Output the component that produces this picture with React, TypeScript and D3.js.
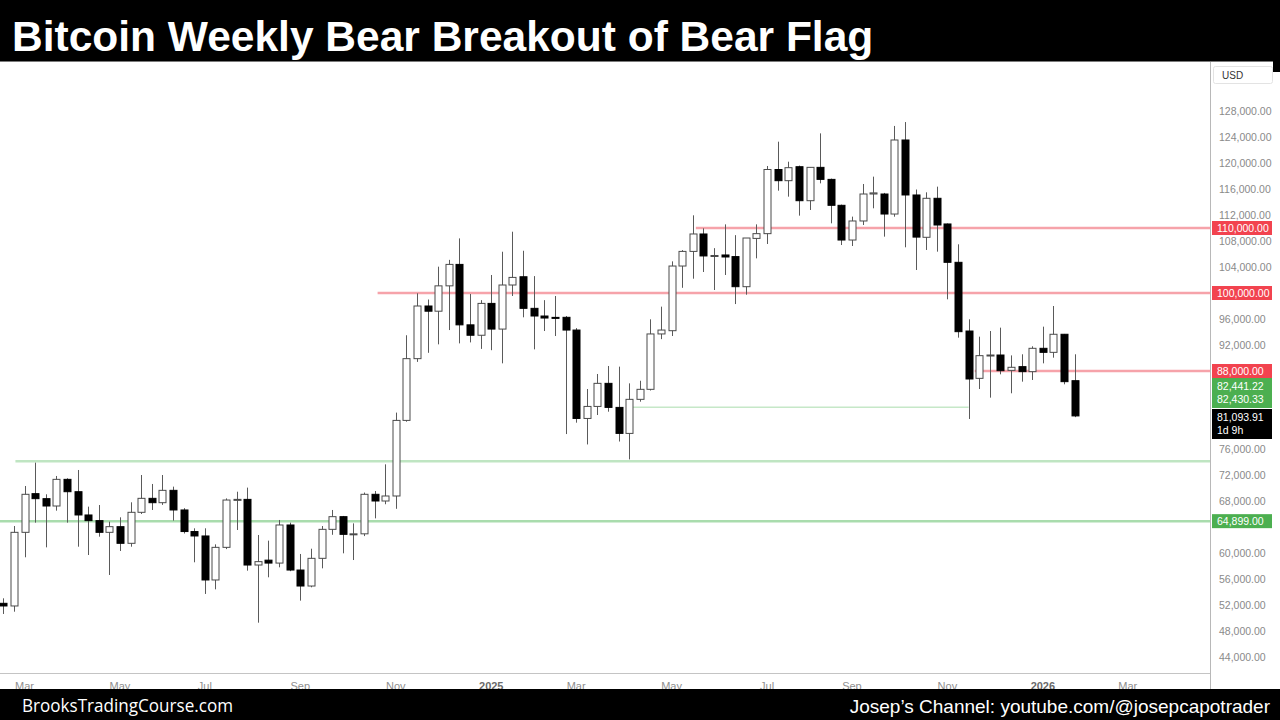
import React from "react";
import * as d3 from "d3";

// ---- DATA ----
const firstWeek = "2024-02-19";
const opens = [52260,51850,63180,69130,68360,67230,71330,69430,65850,64980,63180,64050,61490,66260,68410,67740,69640,66620,63300,62620,55850,60870,68150,68250,58150,58900,58450,64310,57380,54920,59180,63640,65590,62870,62950,69030,68000,68770,80400,89900,98000,97200,101100,104400,95100,93500,98400,94450,101230,102500,97640,96460,96250,96260,94300,80700,82550,86100,82400,78400,83640,85180,93700,94200,104150,106400,109080,105700,105850,105600,100970,108400,109130,119000,117280,119430,114200,119330,117480,113490,108150,111080,115230,115230,112150,123540,115080,108570,114570,110620,104720,94150,86870,90360,90460,88100,88670,87900,91490,90870,93650,86510];
const highs = [53030,64150,70310,73900,69030,71850,71500,72770,67130,67380,64820,65490,67800,72000,70620,72000,70210,66900,63800,63800,61330,68400,69430,70060,62770,61900,65080,64670,59850,60660,64150,66620,65700,64560,69300,69540,73640,81600,93500,99950,99000,104050,105100,108400,99850,98900,102770,106350,109430,106500,102600,98900,99540,96460,94600,85230,87540,88770,88670,86100,86500,95950,97900,104870,106600,111950,109950,106900,110560,108900,108460,110560,119540,123280,120200,119600,119330,124560,117600,113600,111750,116770,117900,115400,125700,126300,115920,115490,116360,110700,107490,95950,93280,94150,94670,90400,90570,91800,94820,98000,93700,90570];
const lows = [50620,50970,59340,64670,60870,66510,64670,60970,59690,62510,56620,60310,60970,66000,66620,67400,64980,63000,58570,53700,54410,60600,63540,57280,49280,56260,57800,57200,52670,54720,57640,62800,59950,58920,62600,65330,67500,66800,80200,89400,90800,92100,94300,92250,92400,91400,91200,89180,99540,96260,91330,94150,93380,78300,80050,76700,81230,81740,77150,74400,83280,85000,92900,93380,100800,102200,103230,100460,102770,98300,99740,105330,107540,115740,114820,111900,112770,116870,110720,107380,107230,110460,113030,108670,111740,107030,103540,106620,106360,99030,93130,80620,85230,83900,87490,84570,86360,86620,89180,90050,85950,80900];
const closes = [51850,63180,69030,68360,67230,71330,69430,65850,64980,63180,64050,61490,66260,68410,67740,69640,66620,63300,62620,55850,60870,68150,68250,58150,58670,58450,64310,57380,54920,59180,63640,65590,62870,62950,69030,68000,68770,80400,89900,98000,97200,101100,104400,95100,93500,98400,94450,101230,102400,97640,96460,96150,96100,94300,80700,82550,86100,82400,78400,83640,85180,93700,94300,104150,106400,109080,105700,105770,105540,100970,108460,109130,119000,117280,119280,114200,119330,117480,113490,108150,111080,115230,115400,112150,123540,115080,108600,114570,110460,104720,94050,86770,90360,90460,88050,88570,87900,91490,90870,93650,86360,81090];

// price-scale ticks (those hidden behind the price boxes are left out)
const priceTicks = [44000,48000,52000,56000,60000,68000,72000,76000,92000,96000,104000,108000,112000,116000,120000,124000,128000];
const monthLabels = [
  { date: "2024-03-04", text: "Mar" },
  { date: "2024-05-06", text: "May" },
  { date: "2024-07-01", text: "Jul" },
  { date: "2024-09-02", text: "Sep" },
  { date: "2024-11-04", text: "Nov" },
  { date: "2025-01-06", text: "2025", year: true },
  { date: "2025-03-03", text: "Mar" },
  { date: "2025-05-05", text: "May" },
  { date: "2025-07-07", text: "Jul" },
  { date: "2025-09-01", text: "Sep" },
  { date: "2025-11-03", text: "Nov" },
  { date: "2026-01-05", text: "2026", year: true },
  { date: "2026-03-02", text: "Mar" },
];
// horizontal levels: value, start date, end date (null = right edge)
const levels = [
  { value: 110000, start: "2025-05-21", end: null, color: "#f6a3aa", w: 2.5 },
  { value: 100000, start: "2024-10-23", end: null, color: "#f6a3aa", w: 2.5 },
  { value: 88000, start: "2025-11-21", end: null, color: "#f6a3aa", w: 2.5 },
  { value: 82441, start: "2025-04-09", end: "2025-11-17", color: "#c6e8c8", w: 1.5 },
  { value: 74100, start: "2024-02-27", end: null, color: "#bfe5c2", w: 2.5 },
  { value: 64899, start: "2024-02-01", end: null, color: "#a9dcad", w: 2.5 },
];
const axisBoxes = [
  { value: 110000, lines: ["110,000.00"], bg: "#f2434f" },
  { value: 100000, lines: ["100,000.00"], bg: "#f2434f" },
  { value: 88000, lines: ["88,000.00"], bg: "#f2434f" },
  { value: 64899, lines: ["64,899.00"], bg: "#4caf50" },
];
const stackedBoxes = [
  { top: 378, lines: ["82,441.22", "82,430.33"], bg: "#4caf50" },
  { top: 409, lines: ["81,093.91", "1d 9h"], bg: "#000000" },
];

const W = 1280;
const H = 720;
const plotRight = 1210;

export default function App() {
  const utc = (s: string) => new Date(s + "T00:00:00Z");
  const t0 = utc(firstWeek);
  const weeks = opens.map((_, i) => d3.utcDay.offset(t0, i * 7));
  const x = d3.scaleUtc().domain([weeks[0], weeks[weeks.length - 1]]).range([3.3, 1074.7]);
  const y = d3.scaleLinear().domain([44000, 128000]).range([657, 111]);
  const bw = 7;
  const fmt = d3.format(",.2f");

  return (
    <svg width={W} height={H} style={{ position: "absolute", left: 0, top: 0, background: "#fff" }}
      fontFamily="'Liberation Sans', Arial, sans-serif">
      <rect x={0} y={0} width={W} height={H} fill="#fff" />
      <defs>
        <clipPath id="plot"><rect x={0} y={61} width={plotRight} height={612} /></clipPath>
      </defs>

      <g clipPath="url(#plot)">
        {levels.map((l, i) => {
          const yy = y(l.value);
          return (
            <line key={i} x1={x(utc(l.start))} x2={l.end ? x(utc(l.end)) : plotRight}
              y1={yy} y2={yy} stroke={l.color} strokeWidth={l.w} />
          );
        })}
        {weeks.map((d, i) => {
          const cx = Math.round(x(d));
          const o = opens[i], c = closes[i];
          const up = c >= o;
          const yt = y(Math.max(o, c));
          const yb = y(Math.min(o, c));
          const h = Math.max(1, yb - yt);
          return (
            <g key={i}>
              <line x1={cx + 0.5} x2={cx + 0.5} y1={y(highs[i])} y2={y(lows[i])} stroke="#5a5a5a" strokeWidth={1} />
              <rect x={cx - bw / 2 + 0.5} y={yt} width={bw} height={h}
                fill={up ? "#ffffff" : "#000000"} stroke={up ? "#4a4a4a" : "#000000"} strokeWidth={1} />
            </g>
          );
        })}
      </g>

      <line x1={plotRight + 0.5} x2={plotRight + 0.5} y1={61} y2={689} stroke="#b8b8b8" strokeWidth={1} />
      <line x1={0} x2={plotRight} y1={673.5} y2={673.5} stroke="#c4c4c4" strokeWidth={1} />

      {priceTicks.map((v) => (
        <text key={v} x={1219} y={y(v)} dy="0.35em" fontSize={10.5} fill="#8a8a8a">{fmt(v)}</text>
      ))}

      <rect x={1213.5} y={66.5} width={59} height={17} rx={2} fill="#fff" stroke="#e3e3e3" />
      <text x={1222} y={75} dy="0.35em" fontSize={10} fill="#333">USD</text>

      {axisBoxes.map((b, i) => {
        const yy = y(b.value);
        return (
          <g key={i}>
            <rect x={1212} y={yy - 7} width={60} height={14} fill={b.bg} />
            <text x={1217} y={yy} dy="0.35em" fontSize={10.5} fill="#fff">{b.lines[0]}</text>
          </g>
        );
      })}
      {stackedBoxes.map((b, i) => (
        <g key={i}>
          <rect x={1212} y={b.top} width={60} height={b.lines.length * 13 + 4} fill={b.bg} />
          {b.lines.map((t, j) => (
            <text key={j} x={1217} y={b.top + 8.5 + j * 12.5} dy="0.35em" fontSize={10.5} fill="#fff">{t}</text>
          ))}
        </g>
      ))}

      {monthLabels.map((m, i) => (
        <text key={i} x={x(utc(m.date))} y={690} textAnchor="middle" fontSize={11}
          fill={m.year ? "#6a6a6a" : "#8f8f8f"} fontWeight={m.year ? "bold" : "normal"}>{m.text}</text>
      ))}

      <rect x={0} y={0} width={W} height={61} fill="#000" />
      <line x1={0} x2={W} y1={61.5} y2={61.5} stroke="#7a7a7a" />
      <rect x={1273} y={61} width={7} height={11} fill="#000" />
      <text x={12} y={51} fill="#fff" fontSize={42.5} fontWeight="bold">Bitcoin Weekly Bear Breakout of Bear Flag</text>

      <rect x={0} y={689} width={W} height={31} fill="#000" />
      <text x={22} y={712} fill="#fff" fontSize={18} fontFamily="'Open Sans', 'Noto Sans', sans-serif"
        textLength={211} lengthAdjust="spacingAndGlyphs">BrooksTradingCourse.com</text>
      <text x={1270} y={713} fill="#fff" fontSize={19} textAnchor="end">Josep’s Channel: youtube.com/@josepcapotrader</text>
    </svg>
  );
}
